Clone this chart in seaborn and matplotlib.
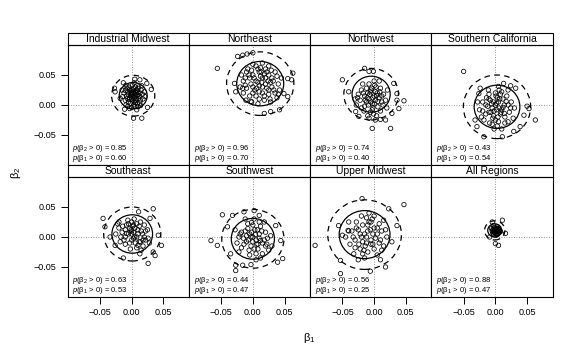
import numpy as np
import pandas as pd
import seaborn as sns
import matplotlib.pyplot as plt
from matplotlib.patches import Ellipse, Rectangle

# regions in panel order (top row, then bottom row)
regions = ["Industrial Midwest", "Northeast", "Northwest", "Southern California",
           "Southeast", "Southwest", "Upper Midwest", "All Regions"]
p_b2 = [0.85, 0.96, 0.74, 0.43, 0.63, 0.44, 0.56, 0.88]
p_b1 = [0.60, 0.70, 0.40, 0.54, 0.53, 0.47, 0.25, 0.47]

# centre and radius of the solid and dashed circles (units of 0.001)
centre_x = [2.5, 11.6, -4.7, 2.6, 1.0, 0.0, -15.0, -1.0]
centre_y = [15.5, 35.6, 18.0, -3.0, 5.0, -3.0, 4.0, 11.0]
r_inner = [22, 37, 30, 36, 32, 34, 40, 11]
r_outer = [34, 53, 43, 53, 45, 49, 58, 16]

# posterior draws (beta1, beta2), units of 0.001
industrial_midwest = [
    (3, -22), (16, -22), (-26, 22), (-27, 28), (31, 26), (25, -4), (5, 43), (13, 42),
    (-13, 37), (24, 36), (-11, -7), (8, -8), (21, 14), (-18, 11), (0, 20), (5, 18),
    (-3, 12), (8, 10), (2, 25), (-6, 22), (10, 22), (4, 5), (-2, 3), (12, 15), (-8, 15),
    (6, 30), (-4, 30), (14, 8), (0, 10), (7, 14), (-10, 8), (3, 0), (9, 2), (-5, 5),
    (15, 25), (-12, 20), (1, 33), (11, 30), (-7, 28), (17, 18), (-14, 14), (5, -2),
    (-1, 17), (3, 22), (8, 25), (-3, 26), (13, 3), (-9, 0), (6, 8), (0, -4), (10, -3),
    (-6, -2), (18, 10), (2, 14), (4, 37), (-9, 33), (16, 32), (-15, 25), (20, 22),
    (1, 19), (6, 22), (-2, 21), (4, 12), (9, 17), (-5, 18), (2, 8), (11, 11), (-7, 11),
    (7, 20), (3, 28), (-1, 24), (13, 20), (-4, 9), (0, 15), (6, 4), (10, 27), (-10, 24),
    (14, -1), (-3, -6)]
northeast = [
    (-56, 61), (-24, 81), (-16, 83), (-9, 85), (0, 87), (55, 44), (61, 42), (63, 53),
    (49, 19), (55, 14), (18, -14), (28, -11), (-3, 6), (-11, 8), (42, -8), (-29, 36),
    (-27, 22), (0, 50), (10, 55), (20, 60), (25, 50), (15, 45), (5, 40), (-5, 45),
    (-15, 40), (-20, 30), (-10, 28), (0, 30), (10, 32), (20, 35), (30, 30), (35, 20),
    (25, 18), (15, 20), (5, 15), (-5, 15), (-15, 20), (-10, 55), (5, 65), (15, 70),
    (25, 65), (30, 45), (40, 35), (42, 25), (38, 12), (28, 5), (18, 8), (8, 2), (-2, 5),
    (20, 45), (12, 48), (-8, 60), (0, 68), (22, 28), (32, 40), (10, 22), (-18, 50),
    (35, 55), (45, 45), (27, 10), (3, 25), (-3, 35), (14, 38), (18, 52), (8, 60),
    (-12, 33), (24, 40), (2, 45), (8, 38), (15, 30), (22, 55), (-6, 50), (12, 62),
    (28, 38), (33, 25), (6, 28), (-12, 45), (18, 15), (0, 20), (38, 48), (25, 25),
    (-2, 58), (13, 55), (29, 58), (-16, 28), (40, 18), (10, 10)]
northwest = [
    (-50, 42), (-40, 22), (-15, 61), (-8, 56), (-1, 56), (21, 25), (36, 8), (47, 7),
    (39, -6), (36, 19), (-3, -39), (26, -39), (-8, -22), (2, -25), (10, -24), (18, -25),
    (-29, -11), (-24, -19), (28, -14), (31, 36), (-10, 20), (-5, 25), (0, 15), (5, 20),
    (-15, 15), (-8, 10), (2, 8), (8, 12), (-3, 2), (-12, 5), (-20, 25), (-25, 18),
    (-18, 35), (-8, 35), (3, 30), (10, 28), (12, 5), (-2, -5), (-15, -2), (-22, 8),
    (15, 18), (6, -3), (-6, -12), (-30, 10), (0, 40), (-12, 28), (8, 40), (-28, 0),
    (18, 8), (20, -5), (-5, 5), (2, 22), (-1, -15), (10, -10), (-16, -10),
    (-7, 18), (-2, 12), (4, 16), (-11, 12), (-4, 28), (6, 6), (-9, 0), (0, 2), (-17, 20),
    (-14, 8), (12, 15), (-6, 22), (1, 33), (-20, -5), (9, 22), (-26, 12), (14, 0),
    (-3, -8), (4, -18), (-10, -18)]
southern_california = [
    (-50, 56), (50, -2), (53, -6), (63, -25), (-32, -25), (-29, -36), (-18, -53),
    (11, -53), (29, -44), (39, -36), (45, -17), (-26, 19), (-24, 28), (13, 36), (24, 32),
    (32, 28), (5, 31), (-11, 25), (0, 0), (5, 5), (-5, -5), (10, -8), (-8, 8), (3, 12),
    (12, 10), (-12, -2), (8, -15), (-3, -18), (15, -20), (-15, -15), (20, 0), (-20, 5),
    (0, 20), (10, 22), (-10, 18), (18, 15), (25, 5), (22, -12), (-25, -8), (-18, -25),
    (5, -28), (-5, -32), (15, -30), (28, -22), (-2, -10), (6, -5), (2, 3), (-6, 2),
    (14, 0), (-10, -12), (8, 18), (-14, 12), (20, 25), (-22, -20), (0, -25), (30, -5),
    (-28, 5), (10, -40), (2, -8), (7, 10), (-3, 5), (12, -4), (-7, -12), (4, -20),
    (17, 6), (-15, 0), (-4, -22), (9, -12), (24, -5), (-10, 10), (1, 15), (14, -14),
    (-20, -10), (6, 25), (-2, -40), (20, -28), (-9, -30), (3, -35)]
southeast = [
    (34, 47), (-45, 31), (-42, 17), (26, -44), (37, -31), (34, -25), (47, -14), (42, 3),
    (-13, -35), (13, -28), (-26, -14), (-34, 0), (29, 31), (11, 42), (0, 10), (5, 15),
    (-5, 5), (10, 5), (-10, 12), (3, -2), (15, 10), (-15, 8), (8, 22), (-8, 20), (20, 0),
    (-20, 15), (0, 25), (12, -8), (-3, -10), (25, 12), (-25, 5), (18, -15), (-12, -5),
    (5, 0), (2, 18), (-6, 28), (14, 25), (22, -5), (-18, -8), (8, -18), (-2, -20),
    (28, -10), (0, 5), (10, 12), (-10, 0), (4, 30), (20, 20), (-22, 22), (15, -22),
    (3, 8), (-3, 14), (8, 0), (12, 18), (-8, 6), (17, 5), (0, -5), (-14, 18), (6, -10),
    (22, 10), (-5, 22), (10, -14), (-17, 0), (26, -2), (3, 20), (-10, -12), (18, -5),
    (-1, 12), (14, -8), (-20, 25)]
southwest = [
    (-66, -6), (-56, -14), (-48, 37), (-32, 36), (36, 19), (44, -6), (47, -36), (39, -42),
    (-27, -47), (-27, -56), (-16, -47), (-3, -46), (-35, -28), (-40, 17), (-14, 42),
    (2, 44), (10, 36), (0, 0), (-5, 5), (5, -5), (10, 5), (-10, -8), (3, 12), (-12, 10),
    (15, -10), (-3, -15), (8, -20), (-15, -2), (20, 8), (-20, 5), (0, 20), (12, 18),
    (-8, 22), (22, -12), (-18, -18), (5, -28), (-5, -30), (15, -28), (25, -22),
    (-25, -10), (28, 2), (-28, 12), (2, 30), (18, 25), (-2, 8), (6, -12), (-7, -5),
    (10, -2), (30, -15), (-22, -25), (12, -35), (-12, 30), (-3, 0), (4, 4), (-8, 14),
    (12, -6), (7, 12), (-14, -12), (2, -20), (18, -5), (-10, 2), (8, -12), (-6, -22),
    (23, -2), (-18, 8), (0, -8), (14, 10), (-2, 24), (20, -15), (-22, 0), (10, 25),
    (5, -38)]
upper_midwest = [
    (-93, -14), (-53, -61), (47, 54), (23, 47), (-19, 64), (36, 19), (18, -50), (-6, -57),
    (-56, 19), (-53, -39), (-50, 3), (-41, 11), (28, -8), (-15, 5), (-10, 10), (-20, 0),
    (-5, -5), (-25, 12), (0, 15), (-12, -10), (-30, -5), (5, 5), (-18, 20), (-8, 25),
    (-28, 25), (-35, 10), (-3, 30), (8, 22), (10, -5), (-22, -20), (-10, -25), (0, -20),
    (12, 10), (-38, -12), (-32, -28), (-15, -35), (5, -30), (15, -15), (-40, 25),
    (-20, 35), (0, 35), (15, 28), (20, 0), (-45, 0), (-5, -12), (-14, -15), (-25, -38),
    (10, -38), (-2, 5), (-8, 40), (-12, 0), (-6, 12), (-18, -8), (-22, 5), (2, -2),
    (-28, 15), (-10, 20), (-2, -12), (-16, -22), (5, 15), (-33, 0), (-5, 25), (-24, -12),
    (12, -22), (-12, 32), (-30, -18), (8, -10), (-40, 10), (-18, -28), (18, 12)]
all_regions = [
    (-5, 25), (11, 28), (0, -11), (5, -14), (-9, 0), (16, 6), (0, 10), (2, 12), (-2, 8),
    (4, 14), (-4, 12), (1, 6), (3, 9), (-1, 15), (5, 8), (-3, 5), (6, 12), (-5, 10),
    (0, 13), (2, 5), (-2, 16), (4, 10), (7, 11), (-6, 14), (1, 3), (3, 17), (-1, 11),
    (5, 14), (8, 9), (-3, 19), (1, 9), (-1, 7), (3, 12), (-3, 10), (2, 15), (0, 8),
    (4, 6), (-2, 13), (6, 9), (-4, 7), (1, 13), (3, 4)]

draws = [industrial_midwest, northeast, northwest, southern_california,
         southeast, southwest, upper_midwest, all_regions]

frames = []
for name, pts in zip(regions, draws):
    arr = np.array(pts) / 1000.0
    frames.append(pd.DataFrame({"region": name, "b1": arr[:, 0], "b2": arr[:, 1]}))
df = pd.concat(frames, ignore_index=True)

sns.set_style("ticks")
plt.rcParams["font.family"] = ["Liberation Sans", "DejaVu Sans"]
plt.rcParams["mathtext.fontset"] = "custom"
plt.rcParams["mathtext.rm"] = "Liberation Sans"
plt.rcParams["mathtext.it"] = "Liberation Sans:italic"
for key in ["text.color", "axes.labelcolor", "xtick.color", "ytick.color", "axes.edgecolor"]:
    plt.rcParams[key] = "black"

fig = plt.figure(figsize=(5.75, 3.6), dpi=100)

left = 67.5 / 575
width = 121.25 / 575
height = 120 / 360
bottoms = [1 - 165 / 360, 1 - 297 / 360]

for i, name in enumerate(regions):
    row, col = divmod(i, 4)
    ax = fig.add_axes([left + col * width, bottoms[row], width, height])
    sub = df[df["region"] == name]

    ax.axvline(0, color="#777777", lw=0.6, ls=(0, (1, 2)), zorder=0)
    ax.axhline(0, color="#777777", lw=0.6, ls=(0, (1, 2)), zorder=0)

    sns.scatterplot(data=sub, x="b1", y="b2", ax=ax, marker="o", s=10,
                    facecolor="none", edgecolor="black", linewidth=0.55, legend=False)

    cx, cy = centre_x[i] / 1000, centre_y[i] / 1000
    ax.add_patch(Ellipse((cx, cy), 2 * r_inner[i] / 1000, 2 * r_inner[i] / 1000,
                         fill=False, ec="black", lw=0.9))
    ax.add_patch(Ellipse((cx, cy), 2 * r_outer[i] / 1000, 2 * r_outer[i] / 1000,
                         fill=False, ec="black", lw=0.9, ls=(0, (4.5, 3.5))))

    ax.set_xlim(-0.101, 0.090)
    ax.set_ylim(-0.1, 0.1)
    ax.set_xlabel("")
    ax.set_ylabel("")
    for s in ax.spines.values():
        s.set_linewidth(0.8)
        s.set_color("black")

    ax.set_xticks([-0.05, 0.0, 0.05])
    ax.set_yticks([-0.05, 0.0, 0.05])
    if row == 1:
        ax.set_xticklabels(["\u22120.05", "0.00", "0.05"])
        ax.tick_params(axis="x", length=5, width=0.7, labelsize=6.5, pad=3)
    else:
        ax.tick_params(axis="x", length=0, labelbottom=False)
    if col == 0:
        ax.set_yticklabels(["\u22120.05", "0.00", "0.05"])
        ax.tick_params(axis="y", length=5, width=0.7, labelsize=6.5, pad=3)
    else:
        ax.tick_params(axis="y", length=0, labelleft=False)

    # strip with the region name
    ax.add_patch(Rectangle((0, 1), 1, 0.104, transform=ax.transAxes, fc="white",
                           ec="black", lw=0.8, clip_on=False))
    ax.text(0.5, 1.052, name, transform=ax.transAxes, ha="center", va="center",
            fontsize=7.5)

    ax.text(0.04, 0.14, "$p$(\u03b2$_2$ > 0) = %.2f" % p_b2[i], transform=ax.transAxes,
            ha="left", va="center", fontsize=5.5)
    ax.text(0.04, 0.058, "$p$(\u03b2$_1$ > 0) = %.2f" % p_b1[i], transform=ax.transAxes,
            ha="left", va="center", fontsize=5.5)

fig.text(0.537, 0.06, "\u03b2$_1$", ha="center", va="center", fontsize=8)
fig.text(0.027, 0.52, "\u03b2$_2$", ha="center", va="center", fontsize=8, rotation=90)

fig.savefig("out.png", dpi=100)
